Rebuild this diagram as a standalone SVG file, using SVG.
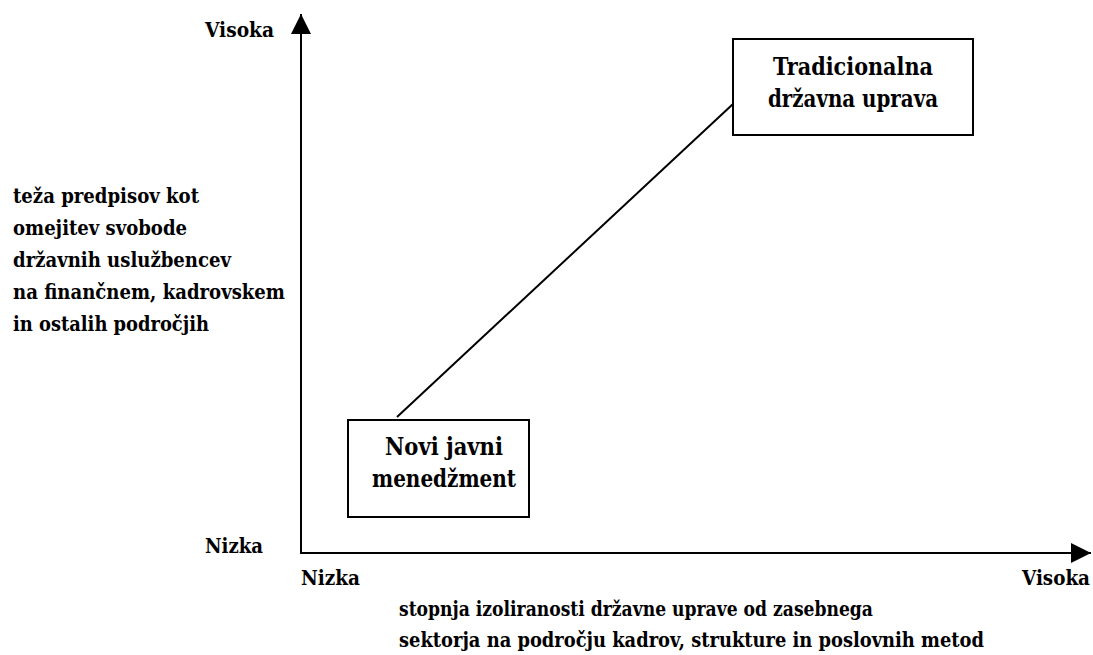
<svg xmlns="http://www.w3.org/2000/svg" width="1093" height="655" viewBox="0 0 1093 655">
  <style>
    .t { font-family: 'DejaVu Serif', serif; font-weight: 700; font-stretch: condensed; font-size: 21px; fill: #000; }
    .n { font-size: 23.5px; text-anchor: middle; }
    .box { fill: #fff; stroke: #000; stroke-width: 2; }
    .ln { stroke: #000; stroke-width: 2; fill: none; }
  </style>
  <defs>
    <marker id="ah" viewBox="0 0 20 20" refX="20" refY="10" markerWidth="20" markerHeight="20" markerUnits="userSpaceOnUse" orient="auto">
      <path d="M0,0 L20,10 L0,20 Z" fill="#000"/>
    </marker>
  </defs>
  <rect width="1093" height="655" fill="#fff"/>

  <!-- axes and the link between the two models -->
  <g id="connectors">
    <line class="ln" x1="301" y1="553" x2="301" y2="14" marker-end="url(#ah)"/>
    <line class="ln" x1="300" y1="553" x2="1091" y2="553" marker-end="url(#ah)"/>
    <line class="ln" x1="397" y1="417" x2="733" y2="104"/>
  </g>

  <g id="axis-labels" class="t" lengthAdjust="spacingAndGlyphs">
    <text x="205" y="37" textLength="69" lengthAdjust="spacingAndGlyphs">Visoka</text>
    <text x="205" y="553" textLength="58" lengthAdjust="spacingAndGlyphs">Nizka</text>
    <text x="301" y="585" textLength="59" lengthAdjust="spacingAndGlyphs">Nizka</text>
    <text x="1022" y="585" textLength="68" lengthAdjust="spacingAndGlyphs">Visoka</text>
    <text x="13" y="203" textLength="186" lengthAdjust="spacingAndGlyphs">teža predpisov kot</text>
    <text x="13" y="235" textLength="174" lengthAdjust="spacingAndGlyphs">omejitev svobode</text>
    <text x="13" y="267" textLength="218" lengthAdjust="spacingAndGlyphs">državnih uslužbencev</text>
    <text x="13" y="299" textLength="272" lengthAdjust="spacingAndGlyphs">na finančnem, kadrovskem</text>
    <text x="13" y="331" textLength="196" lengthAdjust="spacingAndGlyphs">in ostalih področjih</text>
    <text x="399" y="616" textLength="474" lengthAdjust="spacingAndGlyphs">stopnja izoliranosti državne uprave od zasebnega</text>
    <text x="399" y="647" textLength="585" lengthAdjust="spacingAndGlyphs">sektorja na področju kadrov, strukture in poslovnih metod</text>
  </g>

  <g id="node-tradicionalna" class="t">
    <rect class="box" x="733" y="39" width="240" height="96"/>
    <text class="n" x="853" y="75" textLength="160" lengthAdjust="spacingAndGlyphs">Tradicionalna</text>
    <text class="n" x="853" y="107" textLength="170" lengthAdjust="spacingAndGlyphs">državna uprava</text>
  </g>

  <g id="node-novi" class="t">
    <rect class="box" x="348" y="420" width="181" height="97"/>
    <text class="n" x="444" y="455" textLength="118" lengthAdjust="spacingAndGlyphs">Novi javni</text>
    <text class="n" x="444" y="487" textLength="144" lengthAdjust="spacingAndGlyphs">menedžment</text>
  </g>
</svg>
